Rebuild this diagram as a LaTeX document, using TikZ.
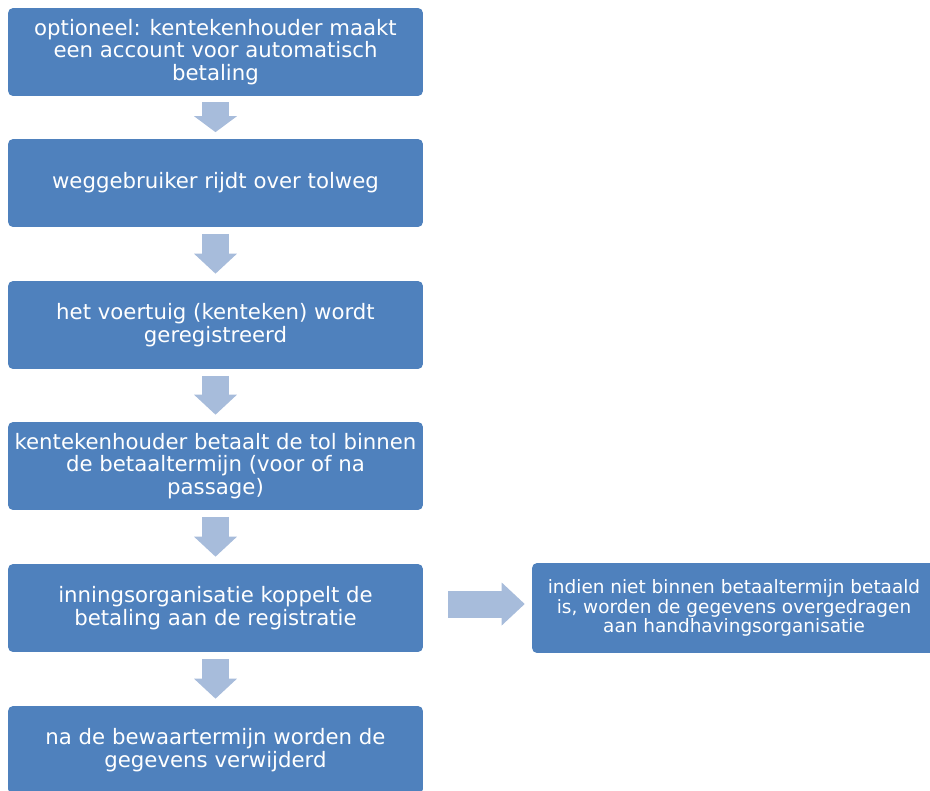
\documentclass[tikz,border=0pt]{standalone}
\usepackage{fontspec}
\setmainfont{DejaVu Sans}
\usetikzlibrary{arrows.meta,calc}
\definecolor{boxblue}{HTML}{4F81BD}
\definecolor{arrowblue}{HTML}{A7BCDB}
\tikzset{
  stepbox/.style={fill=boxblue, text=white, rounded corners=0.1cm, align=center,
    minimum width=8.3cm, minimum height=1.76cm, inner sep=0pt,
    font=\fontsize{12.1}{13}\selectfont},
  flow/.style={draw=arrowblue, line width=0.54cm,
    -{Triangle[length=#1, width=0.86cm, line width=0pt]}},
  flow/.default=0.4cm
}
\begin{document}
\begin{tikzpicture}[x=0.02cm,y=0.02cm]
\useasboundingbox (0,0) rectangle (930,-791);
% main column
\node[stepbox] (reg0) at (215.5,-52) {optioneel: kentekenhouder maakt\\een account voor automatisch\\betaling};
\node[stepbox] (reg1) at (215.5,-183) {weggebruiker rijdt over tolweg};
\node[stepbox] (reg2) at (215.5,-325) {het voertuig (kenteken) wordt\\geregistreerd};
\node[stepbox] (reg3) at (215.5,-466) {kentekenhouder betaalt de tol binnen\\de betaaltermijn (voor of na\\passage)};
\node[stepbox] (reg4) at (215.5,-608) {inningsorganisatie koppelt de\\betaling aan de registratie};
\node[stepbox] (reg5) at (215.5,-750) {na de bewaartermijn worden de\\gegevens verwijderd};
% side box
\node[stepbox, minimum width=8.08cm, minimum height=1.8cm, font=\fontsize{10.5}{11.3}\selectfont] (hand) at (734,-608) {indien niet binnen betaaltermijn betaald\\is, worden de gegevens overgedragen\\aan handhavingsorganisatie};
% block arrows
\draw[flow=0.32cm] ($(reg0.south)+(0,-6)$) -- ($(reg1.north)+(0,6.5)$);
\draw[flow] ($(reg1.south)+(0,-6.5)$) -- ($(reg2.north)+(0,7)$);
\draw[flow] ($(reg2.south)+(0,-6.5)$) -- ($(reg3.north)+(0,7)$);
\draw[flow] ($(reg3.south)+(0,-6.5)$) -- ($(reg4.north)+(0,7)$);
\draw[flow] ($(reg4.south)+(0,-6.5)$) -- ($(reg5.north)+(0,7)$);
\draw[flow=0.46cm] ($(reg4.east)+(25,4)$) -- ($(hand.west)+(-7,4)$);
\end{tikzpicture}
\end{document}
